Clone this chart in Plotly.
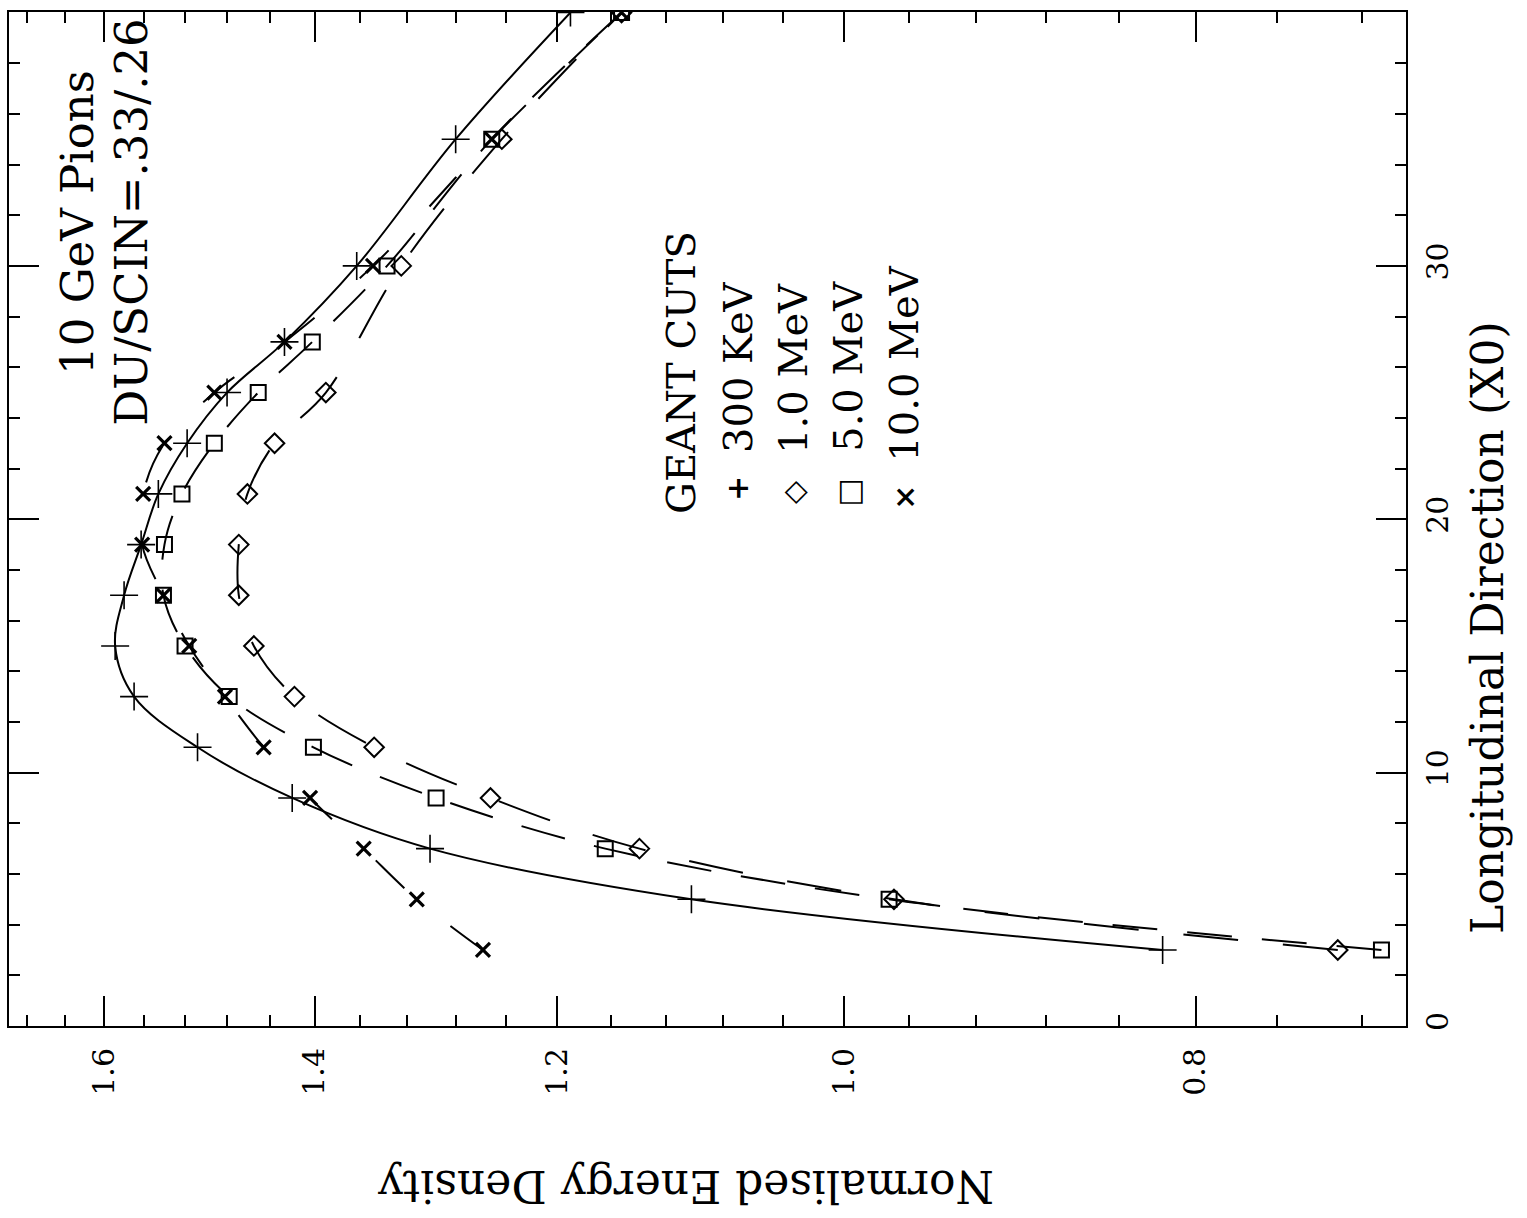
import plotly.graph_objects as go

# Depth along the shower (radiation lengths X0)
depth = [3, 5, 7, 9, 11, 13, 15, 17, 19, 21, 23, 25, 27, 30, 35, 40]
depth_1mev = [3, 5, 7, 9, 11, 13, 15, 17, 19, 21, 23, 25, 30, 35, 40]

# Normalised energy density for each GEANT cut
e_300kev = [0.817, 1.102, 1.301, 1.420, 1.508, 1.570, 1.589, 1.580, 1.563,
            1.546, 1.518, 1.480, 1.427, 1.363, 1.280, 1.190]
e_1mev = [0.731, 0.969, 1.139, 1.252, 1.348, 1.418, 1.455, 1.469, 1.469,
          1.461, 1.436, 1.390, 1.325, 1.243, 1.152]
e_5mev = [0.711, 0.972, 1.164, 1.296, 1.401, 1.478, 1.520, 1.541, 1.540,
          1.523, 1.492, 1.451, 1.402, 1.337, 1.251, 1.152]
e_10mev = [1.258, 1.312, 1.357, 1.404, 1.446, 1.482, 1.516, 1.541, 1.562,
           1.561, 1.540, 1.492, 1.427, 1.349, 1.251, 1.152]

# Axis ticks
energy_major = [0.8, 1.0, 1.2, 1.4, 1.6]
energy_minor = [0.72, 0.76, 0.84, 0.88, 0.92, 0.96, 1.04, 1.08, 1.12, 1.16,
                1.24, 1.28, 1.32, 1.36, 1.44, 1.48, 1.52, 1.56, 1.64, 1.68]
depth_major = [0, 10, 20, 30, 40]
depth_minor = [d for d in range(2, 40, 2) if d % 10]

# Legend rows: symbol glyph and label
legend_symbols = ["+", "\u25c7", "\u25a1", "\u00d7"]
legend_labels = ["300 KeV", "1.0 MeV", "5.0 MeV", "10.0 MeV"]

FONT = "DejaVu Serif"
INK = "black"

series = [
    (e_300kev, depth, "cross-thin-open", 20, 1.6, "solid"),
    (e_1mev, depth_1mev, "diamond-open", 15, 2.0, "55px,45px"),
    (e_5mev, depth, "square-open", 15, 2.0, "45px,30px"),
    (e_10mev, depth, "x-thin-open", 14, 3.2, "40px,60px"),
]

fig = go.Figure()
for vals, dep, sym, size, mlw, dash in series:
    fig.add_trace(go.Scatter(
        x=vals, y=dep, mode="lines+markers",
        line=dict(color=INK, width=2, dash=dash, shape="spline", smoothing=1.0),
        marker=dict(symbol=sym, size=size, color=INK,
                    line=dict(color=INK, width=mlw)),
        showlegend=False,
    ))

fig.update_layout(
    width=1527, height=1218,
    margin=dict(l=7, r=121, t=12, b=192),
    paper_bgcolor="white", plot_bgcolor="white",
    font=dict(family=FONT, color=INK),
)

fig.update_xaxes(
    type="log", range=[0.2304, -0.1549],
    showgrid=False, zeroline=False,
    showline=True, linecolor=INK, linewidth=2, mirror="ticks",
    ticks="inside", ticklen=30, tickwidth=1.5, tickcolor=INK,
    tickvals=energy_major, ticktext=[f"{v:.1f}" for v in energy_major],
    tickangle=-90, tickfont=dict(size=30, family=FONT),
    ticklabelstandoff=8,
    minor=dict(tickvals=energy_minor, ticks="inside", ticklen=11,
               tickwidth=1.5, tickcolor=INK, showgrid=False),
)

fig.update_yaxes(
    range=[0, 40.02], side="right",
    showgrid=False, zeroline=False,
    showline=True, linecolor=INK, linewidth=2, mirror="ticks",
    ticks="inside", ticklen=30, tickwidth=1.5, tickcolor=INK,
    tickvals=depth_major, ticktext=[str(v) for v in depth_major],
    tickangle=-90, tickfont=dict(size=30, family=FONT),
    ticklabelstandoff=4,
    minor=dict(tickvals=depth_minor, ticks="inside", ticklen=11,
               tickwidth=1.5, tickcolor=INK, showgrid=False),
)

def note(text, x, y, size, angle=-90, weight="normal"):
    fig.add_annotation(
        text=text, x=x, y=y, xref="paper", yref="paper",
        showarrow=False, textangle=angle,
        font=dict(size=size, family=FONT, color=INK, weight=weight),
        xanchor="center", yanchor="middle",
    )

# paper-coordinate helpers for this canvas
def px(xp):
    return (xp - 7) / 1399.0

def py(yp):
    return (1026 - yp) / 1014.0

note("10 GeV Pions", px(76), py(222), 45)
note("DU/SCIN=.33/.26", px(130), py(222), 45)

note("GEANT CUTS", px(680), py(373), 40)
legend_x = [737, 792, 847, 903]
legend_sym_y = [488, 492, 493, 497]
legend_txt_y = [367, 368, 366, 364]
for sym, lab, lx, sy, ty in zip(legend_symbols, legend_labels, legend_x,
                                legend_sym_y, legend_txt_y):
    note(sym, px(lx), py(sy), 30, weight="bold")
    note(lab, px(lx), py(ty), 40)

note("Longitudinal Direction (X0)", px(1487), py(628), 44)
note("Normalised Energy Density", px(685), py(1187), 44, angle=180)

fig.write_html("out.html")
